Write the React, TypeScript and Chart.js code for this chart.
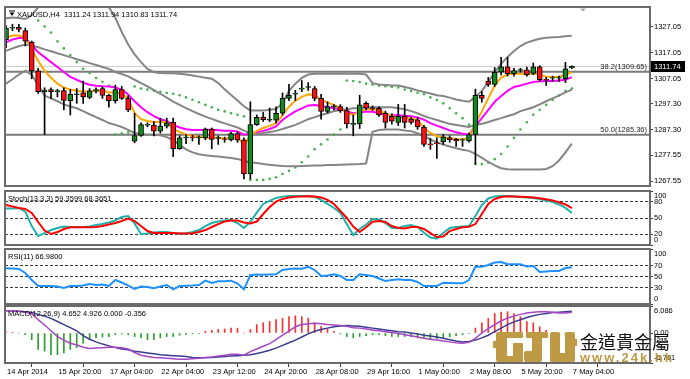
import React, { useEffect, useRef } from 'react';
import { Chart, registerables } from 'chart.js';

Chart.register(...registerables);

const FONT = '"Liberation Sans", Arial, sans-serif';
const FS = 7.5;

// ---------- DATA ----------
const symbol = 'XAUUSD,H4';
const opens = [1322.0, 1326.5, 1326.8, 1325.5, 1321.0, 1310.0, 1302.0, 1302.8, 1302.0, 1302.4,
  1298.5, 1300.8, 1301.6, 1299.8, 1302.2, 1303.2, 1300.6, 1298.5, 1302.8, 1299.4,
  1282.9, 1285.1, 1289.1, 1289.1, 1286.8, 1288.7, 1290.2, 1280.0, 1284.2, 1284.4,
  1284.2, 1284.2, 1287.6, 1284.0, 1283.8, 1283.4, 1285.9, 1283.4, 1270.3, 1289.3,
  1292.2, 1291.0, 1291.0, 1293.7, 1299.4, 1301.0, 1303.0, 1303.6, 1303.2, 1299.4,
  1294.4, 1296.1, 1296.3, 1294.7, 1289.4, 1289.6, 1297.5, 1295.8, 1295.6, 1293.7,
  1292.5, 1290.2, 1292.5, 1291.4, 1291.2, 1288.4, 1281.9, 1282.3, 1282.6, 1284.2,
  1283.6, 1283.3, 1283.0, 1285.5, 1300.6, 1306.1, 1304.8, 1309.5, 1311.6, 1308.9,
  1310.2, 1310.4, 1309.0, 1311.6, 1306.8, 1307.2, 1307.2, 1307.0, 1311.24];
const highs = [1327.5, 1328.0, 1328.0, 1326.5, 1321.5, 1311.0, 1303.5, 1303.5, 1302.9, 1303.5,
  1302.8, 1303.2, 1306.1, 1303.2, 1303.5, 1304.0, 1301.0, 1304.5, 1304.0, 1300.5,
  1293.7, 1290.0, 1290.0, 1290.5, 1291.8, 1291.8, 1291.8, 1285.0, 1285.5, 1285.2,
  1285.0, 1288.0, 1288.0, 1285.0, 1284.5, 1286.3, 1286.5, 1284.2, 1298.1, 1293.0,
  1294.0, 1295.7, 1296.2, 1301.5, 1304.8, 1302.5, 1306.3, 1305.5, 1304.0, 1301.0,
  1298.1, 1297.0, 1297.0, 1296.0, 1293.0, 1300.6, 1298.1, 1296.5, 1296.2, 1294.5,
  1293.5, 1297.1, 1297.1, 1292.0, 1292.0, 1289.0, 1284.0, 1284.2, 1285.5, 1285.0,
  1284.0, 1283.8, 1286.0, 1303.0, 1302.0, 1307.5, 1311.3, 1315.2, 1315.2, 1311.0,
  1311.0, 1311.5, 1313.0, 1312.0, 1307.5, 1308.0, 1308.0, 1313.3, 1311.94];
const lows = [1319.0, 1325.5, 1325.0, 1319.6, 1307.0, 1301.3, 1285.5, 1299.4, 1300.0, 1295.0,
  1293.0, 1297.5, 1297.5, 1299.3, 1301.5, 1299.4, 1296.0, 1297.6, 1299.0, 1294.3,
  1282.3, 1284.8, 1288.5, 1285.0, 1286.0, 1288.0, 1277.0, 1279.8, 1282.0, 1283.0,
  1281.7, 1283.5, 1280.0, 1281.7, 1282.5, 1283.0, 1282.5, 1268.4, 1268.4, 1289.0,
  1290.5, 1290.5, 1290.0, 1293.0, 1298.5, 1298.6, 1302.0, 1302.5, 1298.5, 1291.4,
  1293.8, 1295.0, 1294.0, 1288.0, 1285.0, 1287.8, 1295.0, 1294.8, 1292.5, 1288.0,
  1289.5, 1289.0, 1288.0, 1289.5, 1287.5, 1280.9, 1279.8, 1276.3, 1281.7, 1282.5,
  1280.9, 1280.9, 1282.5, 1274.1, 1298.0, 1304.0, 1304.0, 1308.5, 1308.0, 1308.0,
  1309.5, 1308.0, 1308.5, 1306.0, 1304.4, 1306.0, 1306.0, 1305.5, 1310.83];
const closes = [1326.5, 1326.9, 1326.0, 1321.5, 1310.0, 1302.0, 1302.6, 1302.0, 1302.4, 1298.6,
  1301.0, 1301.2, 1300.0, 1302.3, 1302.8, 1300.6, 1298.5, 1302.8, 1299.4, 1295.0,
  1285.1, 1289.3, 1289.4, 1286.8, 1288.7, 1290.0, 1280.0, 1284.2, 1284.5, 1284.2,
  1284.5, 1287.6, 1283.6, 1284.3, 1283.6, 1285.9, 1283.4, 1270.3, 1289.3, 1292.1,
  1291.2, 1291.4, 1293.7, 1299.4, 1300.6, 1301.5, 1303.4, 1304.0, 1299.4, 1294.4,
  1296.3, 1296.5, 1294.7, 1289.6, 1289.8, 1296.9, 1295.6, 1295.4, 1293.0, 1290.2,
  1290.6, 1292.5, 1290.2, 1290.2, 1288.4, 1281.7, 1281.5, 1281.9, 1284.6, 1283.4,
  1283.0, 1283.5, 1285.5, 1300.6, 1299.4, 1304.8, 1309.5, 1311.6, 1308.9, 1310.1,
  1310.5, 1308.6, 1311.6, 1306.6, 1306.4, 1307.4, 1307.4, 1310.8, 1311.74];

const maFast = [1322.9, 1323.6, 1323.6, 1322.9, 1318.3, 1313.8, 1310.0, 1307.4, 1305.1, 1303.6,
  1302.8, 1302.4, 1302.1, 1302.1, 1302.4, 1302.4, 1301.7, 1301.7, 1301.3, 1299.4,
  1293.7, 1291.4, 1290.7, 1290.3, 1290.3, 1290.3, 1287.6, 1286.5, 1285.4, 1285.0,
  1284.6, 1284.2, 1284.2, 1284.2, 1284.0, 1284.2, 1284.2, 1281.6, 1285.0, 1286.9,
  1288.0, 1288.8, 1289.9, 1293.0, 1296.2, 1298.5, 1300.0, 1301.0, 1300.6, 1298.8,
  1297.8, 1296.9, 1295.6, 1293.7, 1293.1, 1294.4, 1295.2, 1295.2, 1294.8, 1293.7,
  1292.7, 1291.8, 1292.0, 1291.8, 1291.0, 1288.0, 1286.1, 1284.9, 1284.2, 1284.2,
  1283.8, 1283.7, 1284.2, 1289.9, 1294.4, 1299.4, 1304.4, 1307.4, 1308.6, 1308.9,
  1308.9, 1308.6, 1309.1, 1308.5, 1307.8, 1307.7, 1307.7, 1308.6, 1309.5];
const maSlow = [1321.0, 1322.1, 1322.7, 1322.7, 1319.9, 1317.2, 1315.3, 1313.4, 1311.5, 1309.6,
  1307.7, 1306.6, 1305.5, 1304.7, 1304.3, 1304.1, 1304.0, 1303.6, 1302.8, 1300.9,
  1298.3, 1296.0, 1294.1, 1292.6, 1291.4, 1290.7, 1289.2, 1288.2, 1287.5, 1287.2,
  1287.2, 1287.3, 1287.3, 1287.1, 1286.9, 1286.9, 1286.7, 1285.4, 1285.8, 1286.5,
  1286.9, 1287.6, 1288.6, 1291.1, 1292.9, 1294.4, 1295.6, 1296.7, 1296.9, 1296.5,
  1296.0, 1295.6, 1295.2, 1294.4, 1293.7, 1294.0, 1294.4, 1294.3, 1293.7, 1293.1,
  1292.9, 1292.9, 1292.7, 1292.5, 1292.1, 1291.2, 1289.9, 1288.9, 1288.0, 1287.1,
  1286.4, 1285.8, 1285.5, 1288.7, 1291.8, 1295.0, 1298.1, 1300.3, 1302.3, 1303.8,
  1304.4, 1305.1, 1305.7, 1306.0, 1306.1, 1306.1, 1306.3, 1306.6, 1307.6];

const bbUpper = [1330.3, 1330.6, 1330.4, 1330.0, 1331.5, 1334.5, 1336.5, 1337.0, 1337.5, 1337.5,
  1337.5, 1337.5, 1337.2, 1337.0, 1336.5, 1335.8, 1334.5, 1330.5, 1325.0, 1320.2,
  1316.4, 1313.4, 1310.8, 1309.5, 1309.2, 1309.1, 1309.1, 1308.9, 1308.6, 1308.2,
  1307.8, 1307.4, 1307.0, 1305.3, 1302.9, 1300.7, 1298.6, 1296.4, 1294.7, 1294.7,
  1294.7, 1295.0, 1295.3, 1297.5, 1302.3, 1305.1, 1307.3, 1308.6, 1308.9, 1308.9,
  1308.9, 1308.9, 1308.9, 1308.9, 1308.9, 1308.9, 1308.6, 1305.3, 1304.8, 1304.6,
  1304.4, 1304.4, 1303.8, 1303.2, 1302.5, 1301.9, 1301.3, 1300.6, 1300.3, 1299.7,
  1299.0, 1298.5, 1298.1, 1300.0, 1302.3, 1305.7, 1309.5, 1312.7, 1315.4, 1317.7,
  1319.6, 1320.9, 1321.7, 1322.4, 1322.8, 1323.0, 1323.1, 1323.4, 1323.6];
const bbMiddle = [1317.7, 1318.7, 1319.5, 1320.2, 1319.8, 1319.1, 1318.3, 1317.6, 1316.8, 1316.1,
  1315.3, 1314.5, 1313.8, 1313.0, 1312.3, 1311.5, 1310.8, 1309.6, 1308.8, 1307.9,
  1306.6, 1305.3, 1304.0, 1302.6, 1301.2, 1299.7, 1298.2, 1296.9, 1295.7, 1294.5,
  1293.4, 1292.4, 1291.5, 1290.6, 1289.8, 1289.0, 1288.2, 1287.0, 1286.0, 1285.8,
  1286.1, 1286.5, 1286.9, 1287.6, 1288.4, 1289.2, 1290.3, 1291.4, 1292.2, 1293.0,
  1293.7, 1294.5, 1294.9, 1295.2, 1295.6, 1295.6, 1296.0, 1296.0, 1296.0, 1296.0,
  1296.0, 1295.6, 1295.2, 1294.5, 1293.7, 1292.6, 1291.8, 1291.1, 1290.3, 1289.6,
  1289.2, 1288.8, 1288.4, 1289.2, 1289.6, 1290.3, 1291.1, 1291.8, 1292.6, 1293.3,
  1294.5, 1295.2, 1296.0, 1297.1, 1298.3, 1299.4, 1300.5, 1301.7, 1302.8];
const bbLower = [1305.1, 1306.8, 1308.6, 1310.1, 1308.5, 1304.5, 1300.5, 1299.4, 1298.3, 1297.1,
  1296.3, 1295.6, 1294.5, 1293.3, 1292.2, 1291.1, 1289.9, 1289.2, 1288.4, 1287.3,
  1286.1, 1285.8, 1285.4, 1285.4, 1285.2, 1284.5, 1283.3, 1281.5, 1279.8, 1278.6,
  1277.9, 1277.5, 1277.2, 1277.0, 1276.7, 1276.4, 1276.1, 1275.3, 1274.8, 1274.5,
  1274.1, 1273.8, 1273.6, 1273.4, 1273.3, 1273.3, 1273.4, 1273.5, 1273.6, 1273.6,
  1273.7, 1273.7, 1273.8, 1273.9, 1274.0, 1274.1, 1274.3, 1286.5, 1287.2, 1287.4,
  1287.4, 1287.4, 1287.0, 1286.8, 1286.0, 1285.0, 1283.5, 1282.5, 1281.6, 1280.9,
  1280.2, 1279.6, 1279.2, 1278.0, 1276.5, 1275.0, 1273.6, 1272.5, 1272.1, 1272.0,
  1272.0, 1272.0, 1272.0, 1272.0, 1272.2, 1273.3, 1275.5, 1278.6, 1282.0];

const sar = [null, null, null, null, null, 1329.4, 1327.1, 1324.8, 1321.4, 1318.7,
  1316.1, 1313.4, 1310.8, 1309.2, 1307.3, 1305.8, 1304.3, 1285.5, 1285.9, 1286.3,
  1304.0, 1303.2, 1302.8, 1302.4, 1302.0, 1301.5, 1301.2, 1300.6, 1299.8, 1298.9,
  1297.9, 1296.9, 1296.0, 1295.0, 1294.4, 1293.7, 1293.1, 1292.5, 1268.0, 1268.0,
  1268.0, 1268.4, 1269.0, 1270.3, 1271.5, 1272.8, 1274.8, 1277.0, 1279.8, 1281.7,
  1283.6, 1285.5, 1287.4, 1306.3, 1306.1, 1305.7, 1305.1, 1304.7, 1304.3, 1304.1,
  1303.8, 1303.6, 1302.8, 1302.3, 1301.6, 1301.0, 1299.8, 1298.8, 1297.5, 1295.6,
  1293.7, 1291.8, 1289.3, 1274.1, 1274.1, 1274.6, 1276.0, 1278.0, 1280.9, 1284.2,
  1287.4, 1290.2, 1293.1, 1295.0, 1296.9, 1298.8, 1300.6, 1302.3, 1303.2];

const fibNames = ['38.2', '50.0'];
const fibValues = [1309.65, 1285.36];
const priceTicks = [1327.05, 1317.05, 1307.05, 1297.30, 1287.30, 1277.55, 1267.55];

const stochMain = [67.7, 67.7, 68.6, 61.7, 35.0, 16.5, 22.0, 27.7, 31.4, 34.2,
  33.3, 33.3, 33.3, 34.2, 37.0, 38.8, 41.6, 45.4, 51.9, 53.7,
  40.0, 20.5, 21.2, 23.0, 24.0, 24.0, 22.1, 21.2, 21.2, 24.0,
  27.7, 35.1, 40.7, 43.5, 45.4, 46.3, 40.7, 31.4, 43.0, 60.0,
  76.0, 81.6, 87.2, 89.6, 90.9, 90.9, 90.9, 90.9, 89.0, 83.5,
  76.0, 68.6, 59.3, 38.8, 18.4, 29.6, 37.9, 48.1, 47.2, 40.7,
  31.4, 31.4, 35.1, 37.0, 33.3, 22.7, 13.8, 11.9, 22.1, 31.4,
  33.3, 34.2, 35.1, 53.7, 74.2, 86.2, 90.0, 90.9, 90.9, 90.0,
  89.0, 88.1, 87.2, 85.3, 82.5, 79.7, 75.1, 68.6, 59.3599];
const stochSignal = [74.2, 71.4, 68.6, 66.7, 59.3, 42.6, 26.8, 20.3, 24.0, 29.6,
  32.7, 32.7, 32.7, 32.7, 33.3, 35.1, 37.9, 40.7, 44.4, 49.1,
  44.4, 35.1, 25.8, 22.1, 22.1, 22.1, 22.1, 21.2, 21.2, 21.6,
  24.0, 27.7, 33.3, 38.8, 43.5, 45.4, 45.4, 41.6, 39.8, 43.5,
  57.4, 70.4, 80.3, 85.3, 88.1, 89.4, 90.0, 90.4, 90.0, 88.1,
  83.5, 76.0, 63.0, 50.0, 34.0, 24.0, 33.0, 43.0, 44.4, 42.6,
  35.1, 31.4, 30.5, 33.3, 33.3, 29.6, 22.1, 14.7, 15.6, 25.8,
  29.6, 32.7, 33.8, 38.8, 57.4, 76.0, 85.3, 89.0, 90.4, 90.0,
  89.4, 89.0, 88.1, 86.6, 84.8, 82.5, 79.2, 75.1, 68.3651];

const rsi = [64.9, 64.5, 63.6, 56.4, 43.6, 32.7, 32.7, 32.7, 31.8, 29.1,
  32.7, 32.7, 33.6, 36.4, 34.5, 35.5, 32.7, 43.6, 39.1, 33.6,
  27.3, 31.8, 30.9, 28.5, 31.8, 34.5, 26.7, 32.7, 33.1, 33.6,
  34.5, 42.4, 38.2, 41.3, 41.3, 42.4, 37.3, 26.7, 52.7, 53.6,
  53.1, 53.6, 54.0, 61.8, 63.6, 64.5, 64.2, 67.8, 61.8, 50.9,
  51.8, 54.0, 50.9, 43.6, 43.6, 54.0, 52.7, 50.9, 46.4, 41.8,
  43.6, 44.9, 43.6, 43.6, 40.0, 32.7, 32.7, 32.7, 38.7, 38.2,
  37.6, 37.6, 43.6, 67.8, 67.8, 70.9, 75.5, 76.4, 72.2, 72.2,
  72.2, 68.2, 69.1, 58.2, 59.1, 60.0, 60.0, 65.5, 66.98];

const macdLine = [5.0, 5.0, 4.9, 4.7, 4.4, 3.0, 1.8, 0.5, -0.8, -1.6,
  -2.3, -2.7, -3.2, -3.5, -3.4, -3.3, -3.2, -3.2, -3.3, -3.6,
  -4.4, -5.0, -5.3, -5.5, -5.6, -5.7, -5.8, -5.9, -5.9, -5.8,
  -5.7, -5.5, -5.4, -5.2, -5.0, -4.8, -4.8, -5.0, -4.2, -3.6,
  -3.0, -2.4, -1.5, -0.5, 0.4, 1.4, 1.9, 2.1, 2.2, 2.1,
  1.9, 1.8, 1.7, 1.5, 1.2, 1.1, 0.9, 0.7, 0.5, 0.3,
  0.1, -0.1, -0.4, -0.6, -0.9, -1.2, -1.4, -1.6, -1.8, -2.0,
  -2.2, -2.3, -2.1, -1.2, 0.0, 1.0, 1.9, 2.7, 3.4, 3.8,
  4.2, 4.5, 4.7, 4.8, 4.8, 4.7, 4.5, 4.5, 4.652];
const macdSignal = [5.0, 5.0, 4.9, 4.8, 4.6, 4.2, 3.8, 3.3, 2.6, 1.9,
  1.2, 0.5, -0.6, -1.4, -2.0, -2.5, -2.9, -3.3, -3.6, -3.8,
  -4.1, -4.3, -4.5, -4.7, -4.9, -5.0, -5.1, -5.2, -5.3, -5.5,
  -5.6, -5.6, -5.5, -5.4, -5.3, -5.2, -5.1, -5.0, -4.9, -4.6,
  -4.3, -3.9, -3.4, -2.8, -2.2, -1.6, -0.9, -0.2, 0.4, 0.8,
  1.1, 1.4, 1.6, 1.7, 1.6, 1.5, 1.3, 1.1, 0.9, 0.7,
  0.5, 0.3, 0.2, 0.0, -0.2, -0.5, -0.7, -0.9, -1.2, -1.5,
  -1.8, -2.0, -1.9, -1.6, -1.1, -0.5, 0.3, 1.1, 1.9, 2.5,
  3.0, 3.5, 3.9, 4.2, 4.4, 4.6, 4.7, 4.8, 4.926];
const macdHist = [0.2, 0.15, 0, -0.4, -1.5, -3.7, -4.1, -4.9, -4.9, -4.5,
  -3.7, -3.3, -2.3, -1.5, -1.1, -0.9, -0.8, -0.4, -0.2, -0.4,
  -0.8, -1.1, -1.5, -1.5, -1.1, -0.8, -0.8, -0.5, -0.4, -0.2,
  -0.1, 0.4, 0.6, 0.8, 0.9, 1.1, 1.1, 0, 0.8, 1.9,
  2.3, 2.6, 3.0, 3.3, 3.7, 3.9, 3.7, 3.3, 2.3, 1.5,
  0.9, 0.4, -0.2, -0.8, -1.1, -0.8, -0.6, -0.4, -0.4, -0.6,
  -0.8, -0.8, -0.8, -0.9, -1.1, -1.3, -1.3, -1.3, -1.1, -0.9,
  -0.6, -0.4, -0.15, 1.1, 2.3, 3.3, 4.4, 4.7, 4.8, 4.4,
  3.7, 2.6, 2.3, 1.4, 0.6, -0.15, -0.25, -0.3, -0.356];
const macdMax = 6.086;
const macdMin = -6.761;

const xTickIndex = [0, 8, 16, 24, 32, 40, 48, 56, 64, 72, 80, 88];
const xTickLabels = ['14 Apr 2014', '15 Apr 20:00', '17 Apr 04:00', '22 Apr 04:00', '23 Apr 12:00',
  '24 Apr 20:00', '28 Apr 08:00', '29 Apr 16:00', '1 May 00:00', '2 May 08:00', '5 May 20:00', '7 May 04:00'];

// ---------- helpers ----------
const X_MIN = -0.156;
const X_MAX = 100.15;
const LAST = closes.length - 1;

const pts = (arr: (number | null)[]) => arr.map((v, i) => ({ x: i, y: v }));

const line = (arr: (number | null)[], color: string, width: number, order: number) => ({
  type: 'line' as const,
  data: pts(arr),
  borderColor: color,
  borderWidth: width,
  pointRadius: 0,
  tension: 0,
  clip: 0,
  order,
});

const xAxisHidden = () => ({
  type: 'linear' as const,
  min: X_MIN,
  max: X_MAX,
  display: false,
  offset: false,
});

const yAxis = (min: number, max: number, values: number[], fmt: (v: number) => string, dashed: number[]) => ({
  type: 'linear' as const,
  position: 'right' as const,
  min,
  max,
  afterBuildTicks: (s: any) => {
    s.ticks = values.map((v) => ({ value: v }));
  },
  afterFit: (s: any) => {
    s.width = 40;
    s.paddingTop = 0;
    s.paddingBottom = 0;
  },
  ticks: {
    autoSkip: false,
    padding: 1,
    color: '#000',
    font: { family: FONT, size: FS },
    callback: (v: any) => fmt(Number(v)),
  },
  grid: {
    drawOnChartArea: dashed.length > 0,
    color: (c: any) => (c.tick && dashed.includes(c.tick.value) ? '#3a3a3a' : 'rgba(0,0,0,0)'),
    tickColor: '#3a3a3a',
    tickLength: 3,
    lineWidth: 1,
    tickBorderDash: [],
  },
  border: { display: false, dash: [3, 2] },
});

const decor = (cfg: { title: string; titleX: number; topLabel?: string; bottomLabel?: string; extra?: (c: any) => void }) => ({
  id: 'decor',
  afterDraw(chart: any) {
    const { ctx, chartArea: a } = chart;
    ctx.save();
    ctx.strokeStyle = '#6a6a6a';
    ctx.lineWidth = 2;
    ctx.strokeRect(a.left, a.top, a.right - a.left, a.bottom - a.top);
    ctx.font = `${FS}px ${FONT}`;
    ctx.fillStyle = '#000';
    ctx.textBaseline = 'middle';
    ctx.textAlign = 'left';
    ctx.fillText(cfg.title, cfg.titleX, a.top + 7.5);
    if (cfg.topLabel) ctx.fillText(cfg.topLabel, a.right + 4, a.top + 5);
    if (cfg.bottomLabel) ctx.fillText(cfg.bottomLabel, a.right + 4, a.bottom - 5.5);
    if (cfg.extra) cfg.extra(chart);
    ctx.restore();
  },
});

const baseOptions = (padding: any, scales: any) => ({
  responsive: false,
  animation: false as const,
  events: [] as any[],
  layout: { padding },
  plugins: { legend: { display: false }, tooltip: { enabled: false }, title: { display: false } },
  scales,
});

// ---------- chart configs ----------
function mainConfig(): any {
  const bodyColors = closes.map((c, i) => (c >= opens[i] ? '#0f8a1c' : '#ff1010'));
  const lastPrice = closes[LAST];
  return {
    type: 'line',
    data: {
      datasets: [
        {
          type: 'bar',
          data: opens.map((o, i) => ({ x: i, y: [o, closes[i]] })),
          backgroundColor: bodyColors,
          borderColor: '#000',
          borderWidth: 1,
          borderSkipped: false,
          barThickness: 5,
          grouped: false,
          order: 0,
        },
        {
          type: 'bar',
          data: lows.map((l, i) => ({ x: i, y: [l, highs[i]] })),
          backgroundColor: '#000',
          borderWidth: 0,
          barThickness: 1,
          grouped: false,
          order: 1,
        },
        line(maFast, '#ffa500', 2, 2),
        line(maSlow, '#ff00ff', 2, 3),
        line(bbUpper, '#858585', 2, 4),
        line(bbMiddle, '#858585', 2, 5),
        line(bbLower, '#858585', 2, 6),
        {
          type: 'line',
          data: pts(sar),
          showLine: false,
          pointRadius: 1.3,
          pointBackgroundColor: '#44b04c',
          pointBorderWidth: 0,
          clip: 0,
          order: 7,
        },
        {
          ...line([], '#7a7a7a', 2, 8),
          data: [{ x: X_MIN, y: fibValues[0] }, { x: X_MAX, y: fibValues[0] }],
        },
        {
          ...line([], '#7a7a7a', 2, 9),
          data: [{ x: X_MIN, y: fibValues[1] }, { x: X_MAX, y: fibValues[1] }],
        },
        {
          ...line([], '#c9c9c9', 1, 10),
          data: [{ x: X_MIN, y: lastPrice }, { x: X_MAX, y: lastPrice }],
        },
      ],
    },
    options: baseOptions({ left: 5, right: 0, top: 7, bottom: 1 }, {
      x: xAxisHidden(),
      y: yAxis(1265.655, 1334.63, priceTicks, (v) => v.toFixed(2), []),
    }),
    plugins: [
      decor({
        title: `${symbol}  ${opens[LAST].toFixed(2)} ${highs[LAST].toFixed(2)} ${lows[LAST].toFixed(2)} ${closes[LAST].toFixed(2)}`,
        titleX: 17,
        extra: (chart: any) => {
          const { ctx, chartArea: a, scales } = chart;
          const y = scales.y;
          // small menu triangle before the symbol
          ctx.fillStyle = '#000';
          ctx.fillRect(9, 10.5, 6, 1);
          ctx.beginPath();
          ctx.moveTo(9.5, 12.5);
          ctx.lineTo(14.5, 12.5);
          ctx.lineTo(12, 16);
          ctx.closePath();
          ctx.fill();
          // chart shift marker
          ctx.fillStyle = '#a8a8a8';
          ctx.beginPath();
          ctx.moveTo(580, 8.5);
          ctx.lineTo(586, 8.5);
          ctx.lineTo(583, 11.5);
          ctx.closePath();
          ctx.fill();
          // fibo labels
          ctx.fillStyle = '#222';
          ctx.textAlign = 'right';
          fibValues.forEach((v, i) => {
            ctx.fillText(`${fibNames[i]}(${v.toFixed(2)})`, a.right - 3, y.getPixelForValue(v) - 5);
          });
          // bid price box
          const py = y.getPixelForValue(lastPrice);
          ctx.fillStyle = '#000';
          ctx.fillRect(a.right + 1, Math.round(py) - 5, 34, 11);
          ctx.fillStyle = '#fff';
          ctx.textAlign = 'left';
          ctx.fillText(lastPrice.toFixed(2), a.right + 4, Math.round(py) + 0.5);
        },
      }),
    ],
  };
}

function stochConfig(): any {
  return {
    type: 'line',
    data: {
      datasets: [
        line(stochSignal, '#ff0000', 2, 0),
        line(stochMain, '#20b2aa', 2, 1),
      ],
    },
    options: baseOptions({ left: 5, right: 0, top: 1, bottom: 2 }, {
      x: xAxisHidden(),
      y: yAxis(0, 100, [0, 20, 50, 80, 100], (v) => (v === 0 || v === 100 ? '' : String(v)), [20, 50, 80]),
    }),
    plugins: [
      decor({
        title: `Stoch(13,3,3) ${stochMain[LAST].toFixed(4)} ${stochSignal[LAST].toFixed(4)}`,
        titleX: 8,
        topLabel: '100',
        bottomLabel: '0',
      }),
    ],
  };
}

function rsiConfig(): any {
  return {
    type: 'line',
    data: { datasets: [line(rsi, '#1e90ff', 2, 0)] },
    options: baseOptions({ left: 5, right: 0, top: 2, bottom: 1 }, {
      x: xAxisHidden(),
      y: yAxis(0, 100, [0, 30, 50, 70, 100], (v) => (v === 0 || v === 100 ? '' : String(v)), [30, 50, 70]),
    }),
    plugins: [
      decor({
        title: `RSI(11) ${rsi[LAST].toFixed(4)}`,
        titleX: 8,
        topLabel: '100',
        bottomLabel: '0',
      }),
    ],
  };
}

function macdConfig(): any {
  const h = macdHist[LAST];
  const up = Math.max(0, h);
  const down = Math.min(0, h);
  return {
    type: 'line',
    data: {
      datasets: [
        line(macdLine, '#a646c4', 1.5, 0),
        line(macdSignal, '#3b3b90', 1.5, 1),
        {
          type: 'bar',
          data: pts(macdHist),
          backgroundColor: macdHist.map((v) => (v >= 0 ? '#ff2f2f' : '#2f9f2f')),
          borderWidth: 0,
          barThickness: 1,
          grouped: false,
          order: 2,
        },
      ],
    },
    options: baseOptions({ left: 5, right: 0, top: 2, bottom: 0 }, {
      x: {
        type: 'linear',
        min: X_MIN,
        max: X_MAX,
        offset: false,
        position: 'bottom',
        afterBuildTicks: (s: any) => {
          s.ticks = xTickIndex.map((v) => ({ value: v }));
        },
        afterFit: (s: any) => {
          s.height = 16;
          s.paddingLeft = 0;
          s.paddingRight = 0;
        },
        ticks: {
          autoSkip: false,
          maxRotation: 0,
          minRotation: 0,
          align: 'start',
          padding: 0,
          labelOffset: 1,
          color: '#000',
          font: { family: FONT, size: FS },
          callback: (_v: any, i: number) => xTickLabels[i],
        },
        grid: { drawOnChartArea: false, tickColor: '#3a3a3a', tickLength: 4, lineWidth: 1 },
        border: { display: false },
      },
      y: yAxis(macdMin, macdMax, [macdMin, 0, macdMax], (v) => (v === 0 ? '0.00' : ''), []),
    }),
    plugins: [
      decor({
        title: `MACD(12,26,9) ${macdLine[LAST].toFixed(3)} ${macdSignal[LAST].toFixed(3)} ${up.toFixed(3)} ${down.toFixed(3)}`,
        titleX: 8,
        topLabel: macdMax.toFixed(3),
        bottomLabel: macdMin.toFixed(3),
      }),
    ],
  };
}

// ---------- component ----------
const GOLD = '#bf9a45';

function Logo() {
  return (
    <svg width={84} height={31} viewBox="-3 0 84 31" style={{ position: 'absolute', left: 493, top: 332 }}>
      <g fill={GOLD}>
        <rect x={0} y={0} width={11} height={30} rx={2} />
        <rect x={4} y={0} width={23} height={6} rx={1} />
        <rect x={4} y={24} width={23} height={6} rx={1} />
        <rect x={17} y={11} width={10} height={19} rx={1} />
        <rect x={-3} y={9} width={4} height={7} />
        <rect x={30} y={0} width={22} height={6} rx={1} />
        <rect x={36} y={0} width={10} height={24} rx={1} />
        <rect x={28} y={19} width={18} height={11} rx={2} />
        <rect x={54} y={0} width={10} height={30} rx={2} />
        <rect x={69} y={0} width={10} height={30} rx={2} />
        <rect x={54} y={21} width={25} height={9} rx={2} />
        <rect x={78} y={7} width={4} height={7} />
      </g>
    </svg>
  );
}

export default function App() {
  const mainRef = useRef<HTMLCanvasElement>(null);
  const stochRef = useRef<HTMLCanvasElement>(null);
  const rsiRef = useRef<HTMLCanvasElement>(null);
  const macdRef = useRef<HTMLCanvasElement>(null);

  useEffect(() => {
    Chart.defaults.font.family = FONT;
    Chart.defaults.font.size = FS;
    const charts: Chart[] = [];
    charts.push(new Chart(mainRef.current as HTMLCanvasElement, mainConfig()));
    charts.push(new Chart(stochRef.current as HTMLCanvasElement, stochConfig()));
    charts.push(new Chart(rsiRef.current as HTMLCanvasElement, rsiConfig()));
    charts.push(new Chart(macdRef.current as HTMLCanvasElement, macdConfig()));
    return () => charts.forEach((c) => c.destroy());
  }, []);

  const cv = (top: number, h: number): React.CSSProperties => ({
    position: 'absolute',
    left: 0,
    top,
    width: 690,
    height: h,
  });

  return (
    <div style={{ position: 'fixed', left: 0, top: 0, width: 690, height: 379, background: '#fff', overflow: 'hidden' }}>
      <canvas ref={mainRef} width={690} height={190} style={cv(0, 190)} />
      <canvas ref={stochRef} width={690} height={57} style={cv(190, 57)} />
      <canvas ref={rsiRef} width={690} height={58} style={cv(247, 58)} />
      <canvas ref={macdRef} width={690} height={75} style={cv(304, 75)} />
      <Logo />
      <div
        style={{
          position: 'absolute',
          left: 580,
          top: 331,
          fontFamily: '"Noto Sans CJK TC", "Noto Sans CJK SC", sans-serif',
          fontSize: 18,
          lineHeight: '20px',
          color: '#151515',
          whiteSpace: 'nowrap',
        }}
      >
        金道貴金屬
      </div>
      <div
        style={{
          position: 'absolute',
          left: 580,
          top: 351,
          fontFamily: '"Liberation Sans", Arial, sans-serif',
          fontWeight: 'bold',
          fontSize: 13,
          lineHeight: '14px',
          letterSpacing: 2,
          color: GOLD,
          whiteSpace: 'nowrap',
        }}
      >
        www.24k.hk
      </div>
    </div>
  );
}
